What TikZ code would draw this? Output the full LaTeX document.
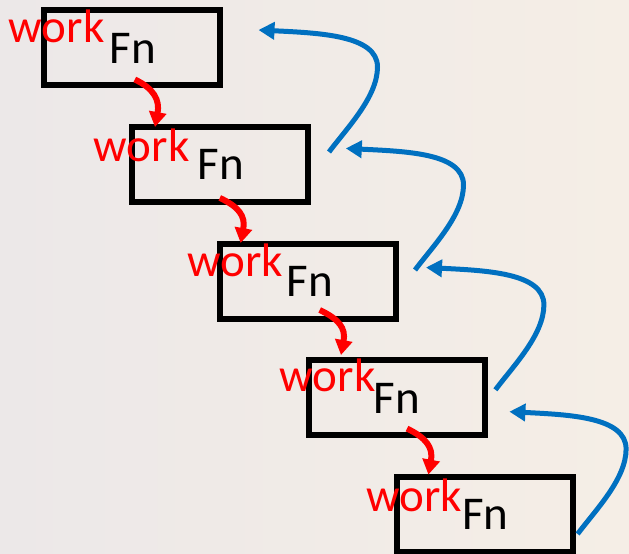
\documentclass[tikz,border=0pt]{standalone}
\usepackage{fontspec}
\newfontfamily\calib{Carlito}
\usetikzlibrary{arrows.meta}
\definecolor{bgL}{RGB}{236,232,232}
\definecolor{bgM}{RGB}{230,228,234}
\definecolor{bgR}{RGB}{245,238,230}
\definecolor{arrowblue}{RGB}{0,112,192}
\definecolor{arrowred}{RGB}{255,0,0}
\tikzset{
  fnbox/.style={draw=black, line width=6pt, minimum width=176pt, minimum height=75pt, inner sep=0pt, outer sep=0pt},
  worklbl/.style={anchor=base west, inner sep=0pt, text=arrowred, font=\calib\fontsize{47}{56}\selectfont},
  fnlbl/.style={anchor=base west, inner sep=0pt, text=black, font=\calib\fontsize{47}{56}\selectfont},
  callarrow/.style={draw=arrowred, line width=6pt, -{Triangle[width=17pt,length=15pt]}},
  retarrow/.style={draw=arrowblue, line width=5pt, -{Triangle[width=17pt,length=16pt]}},
}
\begin{document}
\begin{tikzpicture}[x=1pt,y=1pt]
\useasboundingbox (0,0) rectangle (629,554);
\clip (0,0) rectangle (629,554);
\shade[left color=bgL, middle color=bgM, right color=bgR] (0,0) rectangle (629,554);

% boxes
\node[fnbox] (b1) at (132.0,506.5) {};
\node[fnbox] (b2) at (220.2,389.7) {};
\node[fnbox] (b3) at (308.4,272.9) {};
\node[fnbox] (b4) at (396.6,156.1) {};
\node[fnbox] (b5) at (484.8,39.3) {};

% labels
\node[worklbl] (w1) at (8.5,511.6) {work};
\node[worklbl] (w2) at (93.5,392.2) {work};
\node[worklbl] (w3) at (187.0,277.3) {work};
\node[worklbl] (w4) at (279.5,162.5) {work};
\node[worklbl] (w5) at (366.3,42.3) {work};
\node[fnlbl] (f1) at (109.5,490.7) {Fn};
\node[fnlbl] (f2) at (197.5,374.0) {Fn};
\node[fnlbl] (f3) at (286.5,257.2) {Fn};
\node[fnlbl] (f4) at (373.5,140.0) {Fn};
\node[fnlbl] (f5) at (461.8,24.0) {Fn};

% red call arrows
\coordinate (r1s) at (134.8,474.5); \coordinate (r1e) at (155.0,427.0);
\coordinate (r2s) at (219.8,356.1); \coordinate (r2e) at (240.7,311.0);
\coordinate (r3s) at (319.7,244.0); \coordinate (r3e) at (341.0,199.0);
\coordinate (r4s) at (407.0,125.4); \coordinate (r4e) at (428.4,79.4);
\foreach \i in {1,2,3,4}{
  \draw[callarrow] (r\i s) .. controls +(19,-9) and +(5,27) .. (r\i e);
}

% blue return arrows
\coordinate (u1s) at (329.0,402.0); \coordinate (u1p) at (377.5,487.0); \coordinate (u1e) at (258.5,524.0);
\coordinate (u2s) at (415.0,284.0); \coordinate (u2p) at (463.5,369.0); \coordinate (u2e) at (345.8,405.6);
\coordinate (u3s) at (495.4,164.2); \coordinate (u3p) at (543.9,249.2); \coordinate (u3e) at (426.0,286.5);
\coordinate (u4s) at (577.6,20.0); \coordinate (u4p) at (626.1,105.0); \coordinate (u4e) at (509.4,142.3);
\foreach \i in {1,2,3,4}{
  \draw[retarrow] (u\i s) .. controls +(18,24) and +(0,-30) .. (u\i p)
                         .. controls +(0,32) and +(60,-3) .. (u\i e);
}
\end{tikzpicture}
\end{document}
